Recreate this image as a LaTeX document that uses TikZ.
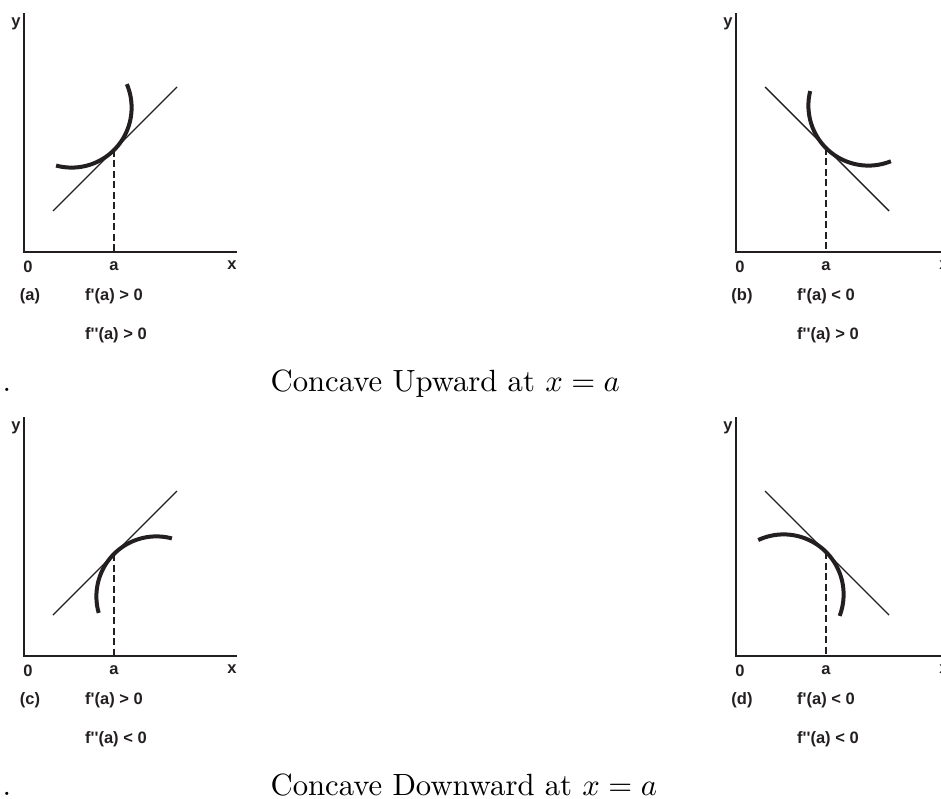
\documentclass[tikz,border=0pt]{standalone}
\usepackage{fontspec}
\newfontfamily\labfont{Liberation Sans}
\newcommand{\qs}{\XeTeXglyph\XeTeXcharglyph"27\relax}
\definecolor{ink}{RGB}{35,31,32}
\tikzset{
  axisline/.style={line width=2pt, draw=ink},
  tline/.style={line width=1.4pt, draw=ink},
  fcurve/.style={line width=4pt, draw=ink},
  dline/.style={line width=1.5pt, draw=ink, dash pattern=on 7pt off 3.5pt},
  lab/.style={font={\labfont\bfseries\fontsize{16.5}{20}\selectfont}, text=ink, inner sep=0pt},
  bigtext/.style={font={\fontsize{10}{12}\selectfont}, scale=3.07, inner sep=0pt, anchor=base west}
}
\newcommand{\panelaxes}[4]{%
  \coordinate (O#1) at (24,252);
  \coordinate (Y#1) at (24,13);
  \coordinate (X#1) at (237,252);
  \draw[axisline] (Y#1) -- (O#1) -- (X#1);
  \node[lab] (ylab#1) at (16,24) {y};
  \node[lab] (zero#1) at (28,267) {0};
  \node[lab] (alab#1) at (114,266) {a};
  \node[lab] (xlab#1) at (232,265) {x};
  \node[lab] (tag#1) at (30,296) {(#2)};
  \node[lab,anchor=west] (fp#1) at (85,296) {f\qs(a) #3 0};
  \node[lab,anchor=west] (fpp#1) at (85,335) {f\qs\qs(a) #4 0};
}
\begin{document}
\begin{tikzpicture}[x=1pt,y=-1pt]
\useasboundingbox (0,0) rectangle (941,799);

% (a)
\begin{scope}
  \panelaxes{A}{a}{>}{>}
  \coordinate (TA) at (114,150);
  \coordinate (LA1) at (53,211);
  \coordinate (LA2) at (177,87);
  \draw[tline] (LA1) -- (LA2);
  \draw[fcurve] plot[domain=-23:105, samples=60] ({71.6+60*cos(\x)},{107.6+60*sin(\x)});
  \draw[dline] (TA) -- (TA |- OA);
\end{scope}

% (b)
\begin{scope}[shift={(712,0)}]
  \panelaxes{B}{b}{<}{>}
  \coordinate (TB) at (114,148);
  \coordinate (LB1) at (53,87);
  \coordinate (LB2) at (177,211);
  \draw[tline] (LB1) -- (LB2);
  \draw[fcurve] plot[domain=68:194, samples=60] ({156.4+60*cos(\x)},{105.6+60*sin(\x)});
  \draw[dline] (TB) -- (TB |- OB);
\end{scope}

% (c)
\begin{scope}[shift={(0,404)}]
  \panelaxes{C}{c}{>}{<}
  \coordinate (TC) at (114,150);
  \coordinate (LC1) at (53,211);
  \coordinate (LC2) at (177,87);
  \draw[tline] (LC1) -- (LC2);
  \draw[fcurve] plot[domain=164:285, samples=60] ({156.4+60*cos(\x)},{192.4+60*sin(\x)});
  \draw[dline] (TC) -- (TC |- OC);
\end{scope}

% (d)
\begin{scope}[shift={(712,404)}]
  \panelaxes{D}{d}{<}{<}
  \coordinate (TD) at (114,148);
  \coordinate (LD1) at (53,87);
  \coordinate (LD2) at (177,211);
  \draw[tline] (LD1) -- (LD2);
  \draw[fcurve] plot[domain=245:381, samples=60] ({71.6+60*cos(\x)},{190.4+60*sin(\x)});
  \draw[dline] (TD) -- (TD |- OD);
\end{scope}

\node[bigtext] (dotU) at (2,391) {.};
\node[bigtext] (capU) at (270,391) {Concave Upward at $x=a$};
\node[bigtext] (dotD) at (2,795) {.};
\node[bigtext] (capD) at (270,795) {Concave Downward at $x=a$};
\end{tikzpicture}
\end{document}
